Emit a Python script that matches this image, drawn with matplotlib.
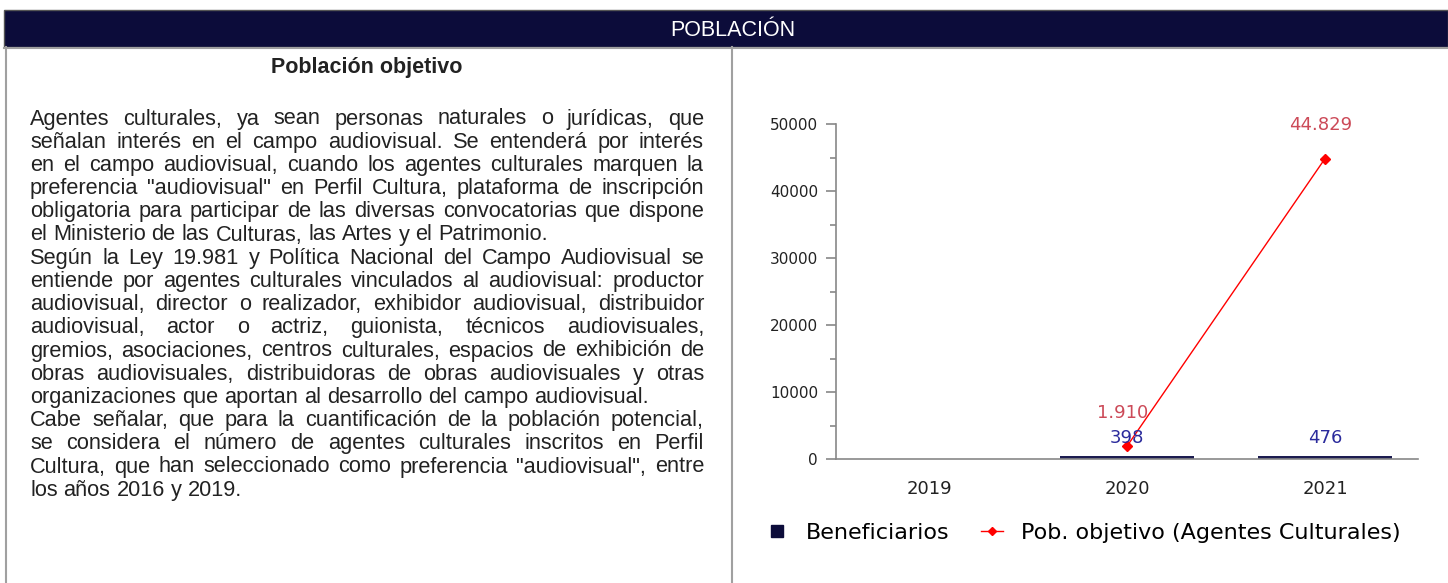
#!/usr/bin/env python3
# -*- coding: utf-8 -*-

import numpy as np
import matplotlib
matplotlib.use("Agg")
import matplotlib.pyplot as plt
from matplotlib.patches import Rectangle
from matplotlib.lines import Line2D

# データ
years = ["2019", "2020", "2021"]
beneficiarios = [0, 398, 476]
pob_objetivo = [None, 1910, 44829]
label_benef = ["", "398", "476"]
label_pob = ["", "1.910", "44.829"]
yticks = [0, 10000, 20000, 30000, 40000, 50000]

header_text = "POBLACIÓN"
title_text = "Población objetivo"
# (texto de la línea, justificada?)
lines = [
    ("Agentes culturales, ya sean personas naturales o jurídicas, que", True),
    ("señalan interés en el campo audiovisual. Se entenderá por interés", True),
    ("en el campo audiovisual, cuando los agentes culturales marquen la", True),
    ("preferencia \"audiovisual\" en Perfil Cultura, plataforma de inscripción", True),
    ("obligatoria para participar de las diversas convocatorias que dispone", True),
    ("el Ministerio de las Culturas, las Artes y el Patrimonio.", False),
    ("Según la Ley 19.981 y Política Nacional del Campo Audiovisual se", True),
    ("entiende por agentes culturales vinculados al audiovisual: productor", True),
    ("audiovisual, director o realizador, exhibidor audiovisual, distribuidor", True),
    ("audiovisual, actor o actriz, guionista, técnicos audiovisuales,", True),
    ("gremios, asociaciones, centros culturales, espacios de exhibición de", True),
    ("obras audiovisuales, distribuidoras de obras audiovisuales y otras", True),
    ("organizaciones que aportan al desarrollo del campo audiovisual.", False),
    ("Cabe señalar, que para la cuantificación de la población potencial,", True),
    ("se considera el número de agentes culturales inscritos en Perfil", True),
    ("Cultura, que han seleccionado como preferencia \"audiovisual\", entre", True),
    ("los años 2016 y 2019.", False),
]

W, H = 1448, 583
NAVY = "#0c0c3a"
GRAY = "#a0a0a0"
FONT = "Liberation Sans"

fig = plt.figure(figsize=(W / 100, H / 100), dpi=100, facecolor="white")

# fondo en coordenadas de pixel
bg = fig.add_axes([0, 0, 1, 1])
bg.set_xlim(0, W)
bg.set_ylim(H, 0)
bg.axis("off")

bg.add_patch(Rectangle((4, 10), W - 4, 37, facecolor=NAVY, edgecolor="#555555", lw=1))
bg.text(733, 31, header_text, color="white", fontsize=15.5, family=FONT,
        ha="center", va="center")
bg.plot([4, W], [48, 48], color=GRAY, lw=1.5)
bg.plot([5.5, 5.5], [47, H], color=GRAY, lw=1.5)
bg.plot([732, 732], [47, H], color=GRAY, lw=1.5)

bg.text(367, 68, title_text, fontsize=15.5, weight="bold", family=FONT,
        color="#222222", ha="center", va="center")

# texto justificado
x0, x1 = 30, 704
y0, dy = 119, 23.2
fsize = 15.7
fig.canvas.draw()
r = fig.canvas.get_renderer()

def width_px(t):
    return t.get_window_extent(r).width

probe = bg.text(0, 0, "a a", fontsize=fsize, family=FONT)
probe2 = bg.text(0, 0, "aa", fontsize=fsize, family=FONT)
space_w = width_px(probe) - width_px(probe2)
probe.remove()
probe2.remove()

for i, (line, justify) in enumerate(lines):
    y = y0 + i * dy
    words = line.split()
    texts = [bg.text(0, y, w, fontsize=fsize, family=FONT,
                     color="#222222", ha="left", va="center") for w in words]
    widths = [width_px(t) for t in texts]
    if justify and len(words) > 1:
        gap = max((x1 - x0 - sum(widths)) / (len(words) - 1), space_w * 0.5)
    else:
        gap = space_w
    x = x0
    for t, w in zip(texts, widths):
        t.set_x(x)
        x += w + gap

# gráfico
ax = fig.add_axes([836 / W, 1 - 459 / H, 582 / W, 335 / H])
xs = np.arange(len(years))
ax.bar(xs, beneficiarios, width=0.68, color="#1c1c50", zorder=2)
px = [x for x, v in zip(xs, pob_objetivo) if v is not None]
pv = [v for v in pob_objetivo if v is not None]
ax.plot(px, pv, color="red", lw=1, marker="D", markersize=5, zorder=3)

for x, v, s in zip(xs, beneficiarios, label_benef):
    if s:
        ax.annotate(s, (x, v), xytext=(0, 13), textcoords="offset points",
                    ha="center", va="center", color="#2b2b9c", fontsize=13)
for x, v, s in zip(xs, pob_objetivo, label_pob):
    if s:
        ax.annotate(s, (x, v), xytext=(-3, 24), textcoords="offset points",
                    ha="center", va="center", color="#cc4a58", fontsize=13)

ax.set_xlim(-0.47, 2.47)
ax.set_ylim(0, 50000)
ax.set_xticks(xs)
ax.set_xticklabels(years)
ax.set_yticks(yticks)
ax.set_yticks(np.arange(5000, 50000, 10000), minor=True)
ax.tick_params(axis="x", length=0, pad=15, labelsize=13, labelcolor="#222222")
ax.tick_params(axis="y", which="major", length=7, width=1.2, color="#888888",
               pad=6, labelsize=11, labelcolor="#222222")
ax.tick_params(axis="y", which="minor", length=4, width=1.2, color="#888888")
for s in ["top", "right"]:
    ax.spines[s].set_visible(False)
for s in ["left", "bottom"]:
    ax.spines[s].set_color("#888888")
    ax.spines[s].set_linewidth(1.2)

handles = [
    Line2D([], [], color=NAVY, marker="s", linestyle="none", markersize=9),
    Line2D([], [], color="red", marker="D", markersize=4, lw=1),
]
fig.legend(handles, ["Beneficiarios", "Pob. objetivo (Agentes Culturales)"],
           loc="center", bbox_to_anchor=(1083 / W, 1 - 533 / H), ncol=2,
           frameon=False, fontsize=16, handlelength=1.0, columnspacing=1.4,
           handletextpad=0.8)

fig.savefig("out.png", dpi=100, facecolor="white")
